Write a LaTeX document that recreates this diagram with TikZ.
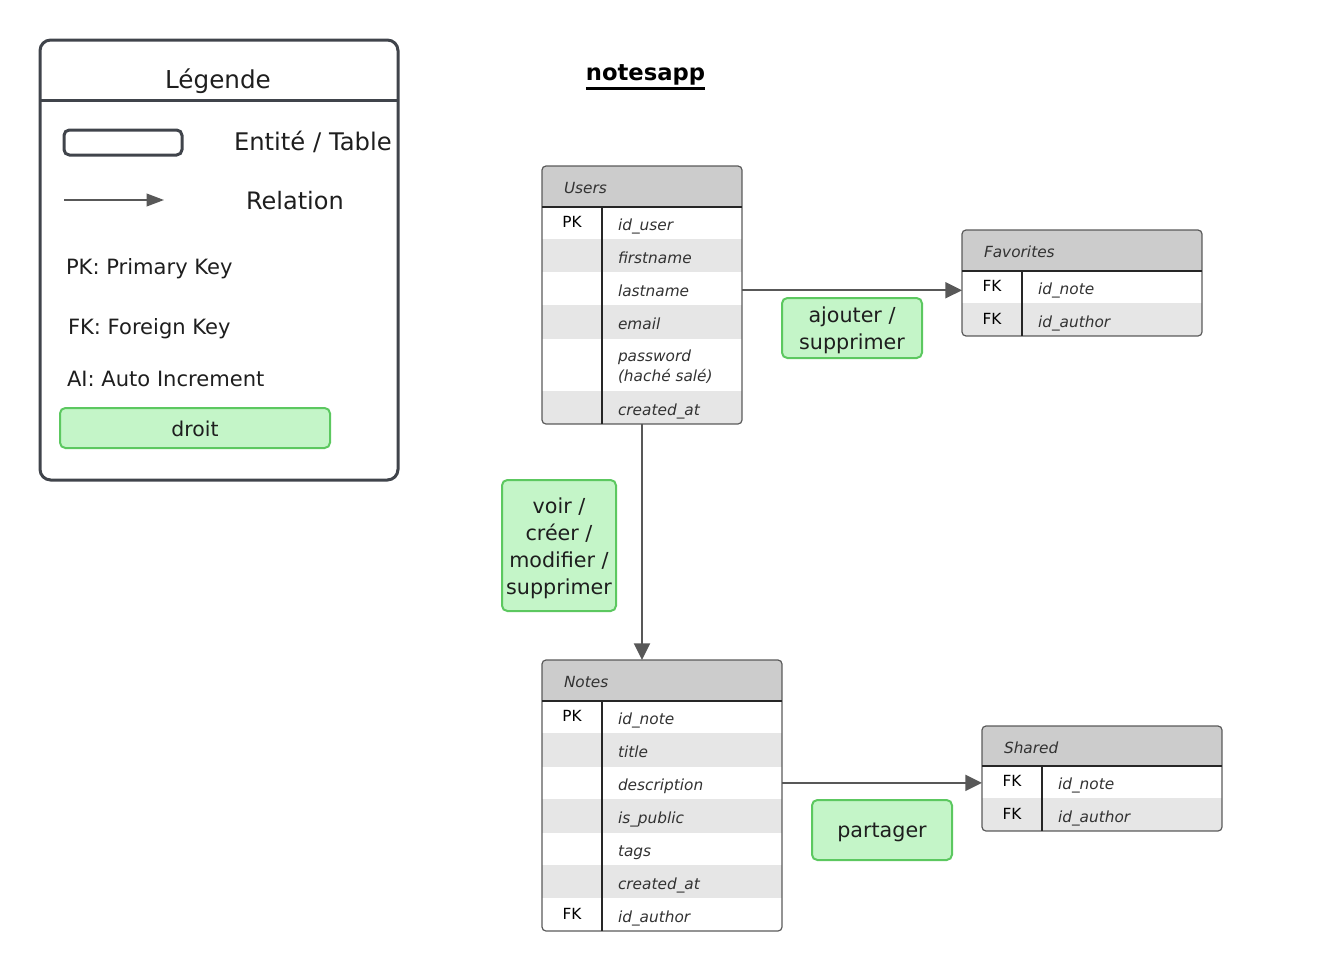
\documentclass[tikz,border=0pt]{standalone}
\usepackage{fontspec}
\setmainfont{DejaVu Sans}
\usetikzlibrary{arrows.meta,fit}
\definecolor{legline}{RGB}{64,68,75}
\definecolor{tline}{RGB}{90,90,90}
\definecolor{hdr}{RGB}{204,204,204}
\definecolor{rowg}{RGB}{230,230,230}
\definecolor{gfill}{RGB}{196,245,200}
\definecolor{gline}{RGB}{92,200,96}
\definecolor{arr}{RGB}{88,88,88}
\definecolor{txt}{RGB}{30,30,30}
\definecolor{ftxt}{RGB}{50,50,50}
\begin{document}
\begin{tikzpicture}[x=0.75pt,y=-0.75pt,
  every node/.style={inner sep=0pt, outer sep=0pt, text=txt},
  legframe/.style={draw=legline, line width=2.25pt, rounded corners=8pt, inner sep=0pt},
  tframe/.style={draw=tline, line width=0.9pt, rounded corners=3pt, inner sep=0pt},
  tsep/.style={draw=black!85, line width=0.8pt},
  thead/.style={anchor=base west, font=\fontsize{11.5}{14}\selectfont\itshape, text=ftxt},
  tkey/.style={anchor=base, font=\fontsize{11.5}{14}\selectfont, text=black},
  tfld/.style={anchor=base west, font=\fontsize{11.5}{15}\selectfont\itshape, text=ftxt},
  legtxt/.style={anchor=west, font=\fontsize{15.8}{18}\selectfont},
  lblbox/.style={draw=gline, fill=gfill, line width=1.5pt, rounded corners=4pt},
  lbltxt/.style={align=center, font=\fontsize{15.5}{20.25}\selectfont},
  rel/.style={draw=arr, line width=1.5pt, -{Triangle[length=12.5pt,width=12pt]}},
  legrel/.style={draw=arr, line width=1.2pt, -{Triangle[length=13pt,width=9.5pt]}}
]
\useasboundingbox (0,0) rectangle (1323,971);

% ---------------- Legend ----------------
\node[legframe, fit={(40,40) (398,480)}] (legend) {};
\draw[draw=legline, line width=2.25pt] (legend.west |- 0,100) -- (legend.east |- 0,100);
\node[font=\fontsize{18.5}{21}\selectfont] (legT) at (218,81.5) {Légende};
\node[draw=legline, line width=2.25pt, rounded corners=4pt, fit={(64,130) (182,155)}] (legEnt) {};
\node[anchor=west, font=\fontsize{18.2}{21}\selectfont] (legEntT) at (234,142) {Entité / Table};
\coordinate (legA) at (64,200);
\coordinate (legB) at (164,200);
\draw[legrel] (legA) -- (legB);
\node[anchor=west, font=\fontsize{18}{21}\selectfont] (legRelT) at (246,201) {Relation};
\node[legtxt] (legPK) at (66,268.5) {PK: Primary Key};
\node[legtxt] (legFK) at (68,328.5) {FK: Foreign Key};
\node[legtxt] (legAI) at (67,379) {AI: Auto Increment};
\node[lblbox, minimum width=202.5pt, minimum height=30pt] (legDroit) at (195,428) {};
\node[font=\fontsize{15.3}{18}\selectfont] (legDroitT) at ([yshift=-1pt]legDroit.center) {droit};

% ---------------- Title ----------------
\node[font=\fontsize{17}{20}\selectfont\bfseries, text=black] (title) at (645.5,74.5) {notesapp};
\draw[line width=2.25pt, black] ([yshift=-6.5pt]title.base west) -- ([yshift=-6.5pt]title.base east);

% ---------------- Users ----------------
\begin{scope}
  \clip[rounded corners=3pt] (542,166) rectangle (742,424);
  \fill[hdr] (542,166) rectangle (742,207);
  \fill[rowg] (542,239) rectangle (742,272);
  \fill[rowg] (542,305) rectangle (742,339);
  \fill[rowg] (542,391) rectangle (742,424);
\end{scope}
\node[tframe, fit={(542,166) (742,424)}] (users) {};
\draw[tsep] (users.west |- 0,207) -- (users.east |- 0,207);
\draw[tsep] (602,207) -- (602,424);
\node[thead] (usersT) at (564,193) {Users};
\node[tkey] (usersK1) at (572,227.5) {PK};
\node[tfld] (usersF1) at (618,230) {id\_user};
\node[tfld] (usersF2) at (618,263) {firstname};
\node[tfld] (usersF3) at (618,296) {lastname};
\node[tfld] (usersF4) at (618,329) {email};
\node[tfld, anchor=west, align=left] (usersF5) at (618,367) {password\\(haché salé)};
\node[tfld] (usersF6) at (618,415) {created\_at};

% ---------------- Favorites ----------------
\begin{scope}
  \clip[rounded corners=3pt] (962,230) rectangle (1202,336);
  \fill[hdr] (962,230) rectangle (1202,271);
  \fill[rowg] (962,303) rectangle (1202,336);
\end{scope}
\node[tframe, fit={(962,230) (1202,336)}] (fav) {};
\draw[tsep] (fav.west |- 0,271) -- (fav.east |- 0,271);
\draw[tsep] (1022,271) -- (1022,336);
\node[thead] (favT) at (984,257.5) {Favorites};
\node[tkey] (favK1) at (992,291.5) {FK};
\node[tfld] (favF1) at (1038,294) {id\_note};
\node[tkey] (favK2) at (992,324.5) {FK};
\node[tfld] (favF2) at (1038,327) {id\_author};

% ---------------- Notes ----------------
\begin{scope}
  \clip[rounded corners=3pt] (542,660) rectangle (782,931);
  \fill[hdr] (542,660) rectangle (782,701);
  \fill[rowg] (542,733) rectangle (782,767);
  \fill[rowg] (542,799) rectangle (782,833);
  \fill[rowg] (542,865) rectangle (782,898);
\end{scope}
\node[tframe, fit={(542,660) (782,931)}] (notes) {};
\draw[tsep] (notes.west |- 0,701) -- (notes.east |- 0,701);
\draw[tsep] (602,701) -- (602,931);
\node[thead] (notesT) at (564,687.5) {Notes};
\node[tkey] (notesK1) at (572,721.5) {PK};
\node[tfld] (notesF1) at (618,724) {id\_note};
\node[tfld] (notesF2) at (618,757) {title};
\node[tfld] (notesF3) at (618,790) {description};
\node[tfld] (notesF4) at (618,823) {is\_public};
\node[tfld] (notesF5) at (618,856) {tags};
\node[tfld] (notesF6) at (618,889) {created\_at};
\node[tkey] (notesK7) at (572,919.5) {FK};
\node[tfld] (notesF7) at (618,922) {id\_author};

% ---------------- Shared ----------------
\begin{scope}
  \clip[rounded corners=3pt] (982,726) rectangle (1222,831);
  \fill[hdr] (982,726) rectangle (1222,766);
  \fill[rowg] (982,798) rectangle (1222,831);
\end{scope}
\node[tframe, fit={(982,726) (1222,831)}] (shared) {};
\draw[tsep] (shared.west |- 0,766) -- (shared.east |- 0,766);
\draw[tsep] (1042,766) -- (1042,831);
\node[thead] (sharedT) at (1004,753) {Shared};
\node[tkey] (sharedK1) at (1012,786.5) {FK};
\node[tfld] (sharedF1) at (1058,789) {id\_note};
\node[tkey] (sharedK2) at (1012,819.5) {FK};
\node[tfld] (sharedF2) at (1058,822) {id\_author};

% ---------------- Relations ----------------
\draw[rel] (usersF3.west -| users.east) -- (usersF3.west -| fav.west);
\draw[rel] (users.south) -- (notes.north -| users.south);
\draw[rel] ([yshift=2.2pt]notesF3.west -| notes.east) -- ([yshift=2.2pt]notesF3.west -| shared.west);

% ---------------- Rights labels ----------------
\node[lblbox, minimum width=105pt, minimum height=45pt] (lblFav) at (852,328) {};
\node[lbltxt] (lblFavT) at ([yshift=-1.8pt]lblFav.center) {ajouter /\\supprimer};
\node[lblbox, minimum width=85.5pt, minimum height=98.25pt] (lblNotes) at (559,545.5) {};
\node[lbltxt] (lblNotesT) at ([yshift=-2pt]lblNotes.center) {voir /\\créer /\\modifier /\\supprimer};
\node[lblbox, minimum width=105pt, minimum height=45pt] (lblShared) at (882,830) {};
\node[lbltxt] (lblSharedT) at ([yshift=-2pt]lblShared.center) {partager};
\end{tikzpicture}
\end{document}
